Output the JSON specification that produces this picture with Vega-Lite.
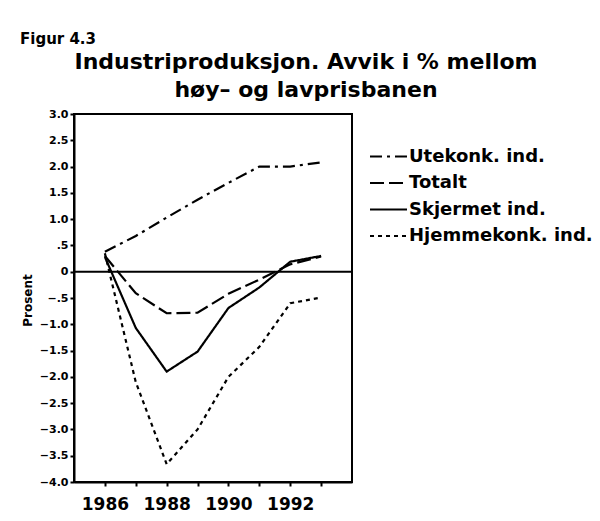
{
  "$schema": "https://vega.github.io/schema/vega-lite/v6.json",
  "background": "white",
  "padding": {"left": 20, "top": 32, "right": 5, "bottom": 5},
  "title": {"text": "Figur 4.3", "anchor": "start", "frame": "bounds", "font": "DejaVu Sans", "fontSize": 15, "fontWeight": "bold", "color": "black", "offset": 3},
  "config": {
    "font": "DejaVu Sans",
    "view": {"stroke": "black", "strokeWidth": 2}
  },
  "vconcat": [
    {
      "width": 278,
      "height": 368,
      "title": {
        "text": ["Industriproduksjon. Avvik i % mellom", "høy– og lavprisbanen"],
        "anchor": "middle",
        "frame": "group",
        "dx": 93,
        "font": "DejaVu Sans",
        "fontSize": 22,
        "fontWeight": "bold",
        "lineHeight": 28,
        "color": "black",
        "offset": 6
      },
      "data": {
        "values": [
          {"year": 1986, "series": "Utekonk. ind.", "value": 0.38},
          {"year": 1987, "series": "Utekonk. ind.", "value": 0.68},
          {"year": 1988, "series": "Utekonk. ind.", "value": 1.03},
          {"year": 1989, "series": "Utekonk. ind.", "value": 1.37},
          {"year": 1990, "series": "Utekonk. ind.", "value": 1.69},
          {"year": 1991, "series": "Utekonk. ind.", "value": 2.0},
          {"year": 1992, "series": "Utekonk. ind.", "value": 2.0},
          {"year": 1993, "series": "Utekonk. ind.", "value": 2.08},
          {"year": 1986, "series": "Totalt", "value": 0.3},
          {"year": 1987, "series": "Totalt", "value": -0.41},
          {"year": 1988, "series": "Totalt", "value": -0.79},
          {"year": 1989, "series": "Totalt", "value": -0.78},
          {"year": 1990, "series": "Totalt", "value": -0.42},
          {"year": 1991, "series": "Totalt", "value": -0.15},
          {"year": 1992, "series": "Totalt", "value": 0.14},
          {"year": 1993, "series": "Totalt", "value": 0.29},
          {"year": 1986, "series": "Skjermet ind.", "value": 0.28},
          {"year": 1987, "series": "Skjermet ind.", "value": -1.07},
          {"year": 1988, "series": "Skjermet ind.", "value": -1.9},
          {"year": 1989, "series": "Skjermet ind.", "value": -1.52},
          {"year": 1990, "series": "Skjermet ind.", "value": -0.69},
          {"year": 1991, "series": "Skjermet ind.", "value": -0.3},
          {"year": 1992, "series": "Skjermet ind.", "value": 0.19},
          {"year": 1993, "series": "Skjermet ind.", "value": 0.3},
          {"year": 1986, "series": "Hjemmekonk. ind.", "value": 0.35},
          {"year": 1987, "series": "Hjemmekonk. ind.", "value": -2.1},
          {"year": 1988, "series": "Hjemmekonk. ind.", "value": -3.66},
          {"year": 1989, "series": "Hjemmekonk. ind.", "value": -3.0},
          {"year": 1990, "series": "Hjemmekonk. ind.", "value": -2.0},
          {"year": 1991, "series": "Hjemmekonk. ind.", "value": -1.43},
          {"year": 1992, "series": "Hjemmekonk. ind.", "value": -0.6},
          {"year": 1993, "series": "Hjemmekonk. ind.", "value": -0.49}
        ]
      },
      "encoding": {
        "y": {
          "field": "value", "type": "quantitative",
          "scale": {"domain": [-4, 3], "nice": false},
          "axis": {
            "title": "Prosent",
            "titleAngle": -90,
            "titleX": -47,
            "titleY": 186,
            "titleAlign": "center",
            "titleBaseline": "middle",
            "titleFont": "DejaVu Sans", "titleFontSize": 12, "titleFontWeight": "bold", "titleColor": "black",
            "values": [-4, -3.5, -3, -2.5, -2, -1.5, -1, -0.5, 0, 0.5, 1, 1.5, 2, 2.5, 3],
            "labelExpr": "datum.value == 0 ? '0' : (datum.value < 0 ? '−' : '') + (abs(datum.value) < 1 ? '.5' : format(abs(datum.value), '.1f'))",
            "labelOverlap": false,
            "labelFlush": false,
            "grid": false,
            "domainColor": "black", "domainWidth": 2,
            "tickColor": "black", "tickWidth": 2, "tickSize": 4,
            "labelFont": "DejaVu Sans", "labelFontSize": 11, "labelFontWeight": "bold",
            "labelColor": "black", "labelPadding": 2
          }
        }
      },
      "layer": [
        {
          "mark": {"type": "line", "color": "black", "strokeWidth": 2.2},
          "encoding": {
            "x": {
              "field": "year", "type": "quantitative",
              "scale": {"domain": [1985, 1994], "nice": false, "zero": false},
              "axis": {
                "title": null,
                "values": [1986, 1987, 1988, 1989, 1990, 1991, 1992, 1993],
                "labelExpr": "datum.value % 2 == 0 ? '' + datum.value : ''",
                "grid": false,
                "domainColor": "black", "domainWidth": 2,
                "tickColor": "black", "tickWidth": 2, "tickSize": 4,
                "labelFont": "DejaVu Sans", "labelFontSize": 17, "labelFontWeight": "bold",
                "labelColor": "black", "labelPadding": 10
              }
            },
            "strokeDash": {
              "field": "series", "type": "nominal",
              "scale": {
                "domain": ["Utekonk. ind.", "Totalt", "Skjermet ind.", "Hjemmekonk. ind."],
                "range": [[12, 5, 3, 5], [14, 5], [1, 0], [4, 4]]
              },
              "legend": {
                "title": null,
                "orient": "none",
                "legendX": 304,
                "legendY": 32,
                "symbolType": "M-2,0H2",
                "symbolSize": 342,
                "symbolStrokeWidth": 2.2,
                "symbolStrokeColor": "black",
                "labelFont": "DejaVu Sans", "labelFontSize": 18, "labelFontWeight": "bold",
                "labelColor": "black",
                "labelOffset": 10,
                "labelLimit": 300,
                "rowPadding": 6.5
              }
            },
            "detail": {"field": "series", "type": "nominal"}
          }
        },
        {
          "data": {"values": [{"value": 0}]},
          "mark": {"type": "rule", "color": "black", "strokeWidth": 2}
        }
      ]
    }
  ]
}
